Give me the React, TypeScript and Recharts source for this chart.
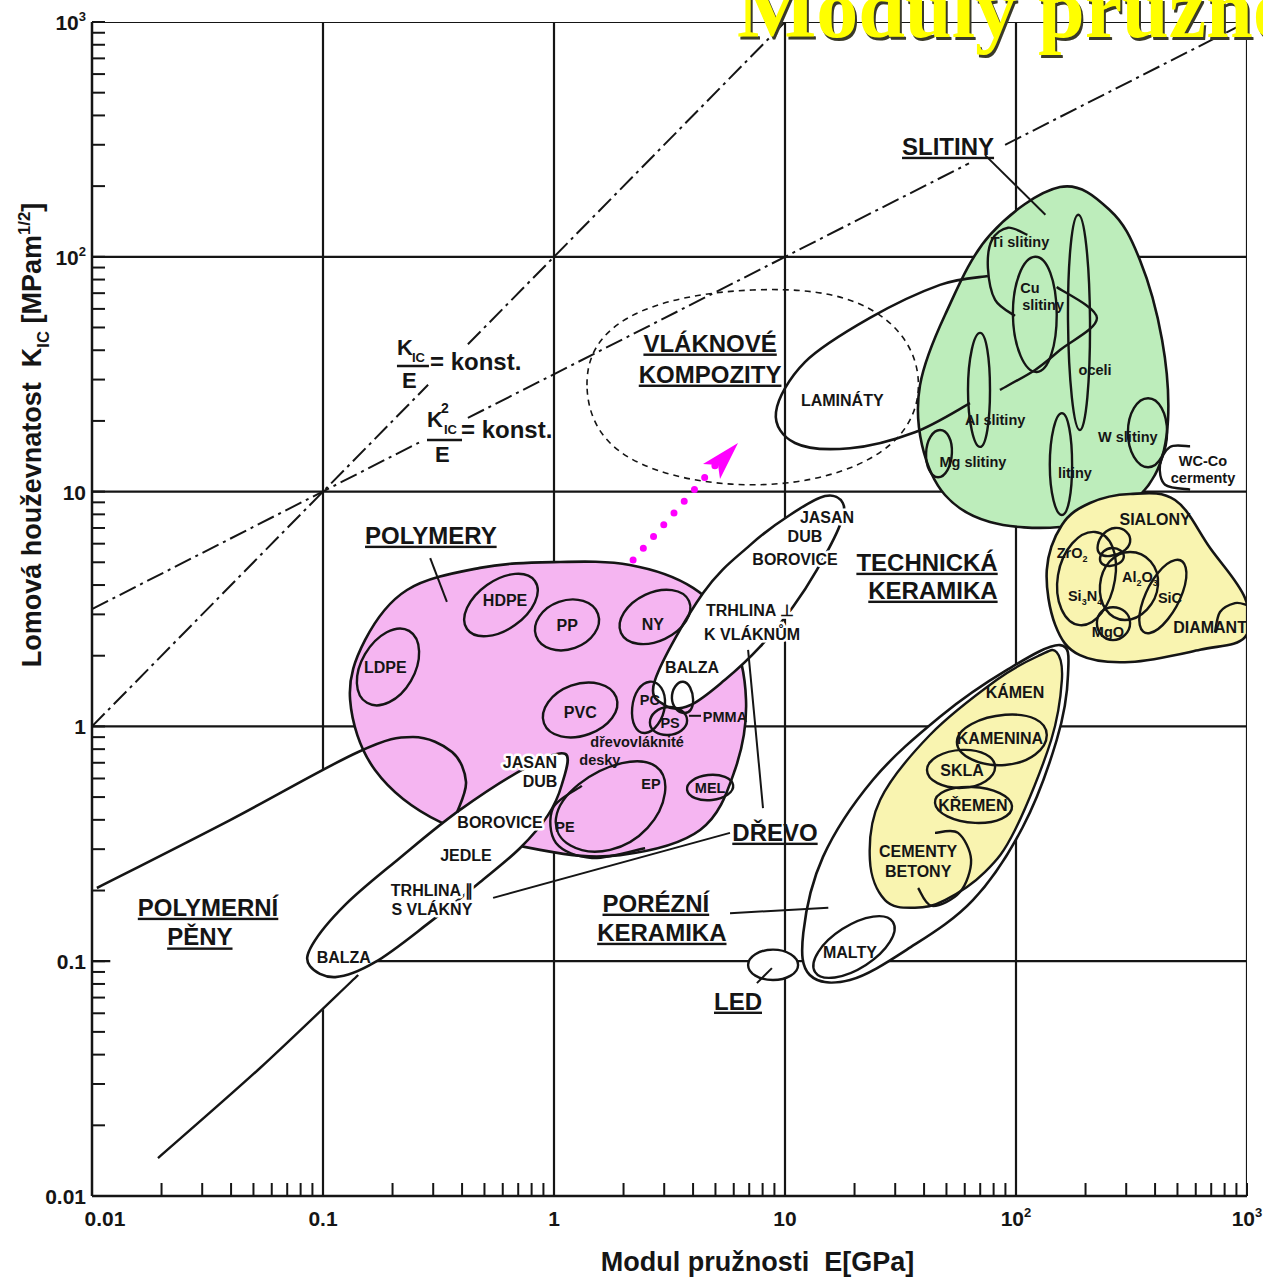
import React from "react";
import { Scatter, ScatterChart, XAxis, YAxis } from "recharts";

const FONT = "'Liberation Sans', Arial, Helvetica, sans-serif";
const INK = "#151515";
const PINK = "#f5b5f1";
const GREEN = "#bdedbb";
const YELLOW = "#f9f4b0";
const MAGENTA = "#ff00ff";
const DASHDOT = "18 5 3 5";

type Pt = [number, number];

// axes: log decades and minor ticks
const MAJOR_TICKS = [0.01, 0.1, 1, 10, 100, 1000];
const MINOR_TICKS = [
  0.02, 0.03, 0.04, 0.05, 0.06, 0.07, 0.08, 0.09,
  0.2, 0.3, 0.4, 0.5, 0.6, 0.7, 0.8, 0.9,
  2, 3, 4, 5, 6, 7, 8, 9,
  20, 30, 40, 50, 60, 70, 80, 90,
  200, 300, 400, 500, 600, 700, 800, 900,
];
const TICK_LABELS: Record<string, string> = {
  "0.01": "0.01", "0.1": "0.1", "1": "1", "10": "10", "100": "10^2", "1000": "10^3",
};
const GRID_LINES = [0.1, 1, 10, 100];

// guide lines K/E = const and K^2/E = const (split where labels sit)
const KE_LINE_A: Pt[] = [[0.01, 1], [0.285, 28.5]];
const KE_LINE_B: Pt[] = [[0.424, 42.4], [10, 1000]];
const K2E_LINE_A: Pt[] = [[0.01, 3.16], [0.271, 16.5]];
const K2E_LINE_B: Pt[] = [[0.424, 20.6], [62.6, 250]];
const K2E_LINE_C: Pt[] = [[89.7, 300], [1000, 1000]];

// material envelopes, [E GPa, K_IC MPa m^1/2]
const FIBRE_COMPOSITES: Pt[] = [[1.39, 28.4], [2.09, 54.9], [7.2, 72.2], [22.9, 60.5], [37.7, 30.5], [25.8, 14.7], [7.79, 10.7], [2.13, 13.9]];
const LAMINATES: Pt[] = [[75.6, 82.8], [46.9, 75.9], [23.3, 54.9], [12.2, 35.6], [9.14, 21.8], [11.05, 16.1], [19.1, 15.3], [36.5, 17.9], [63.2, 23.8]];

const ALLOYS: Pt[] = [[155, 198], [255, 158], [344, 96.9], [429, 44.2], [455, 20.2], [400, 11.8], [282, 8.35], [155, 7.07], [77.2, 7.42], [49.3, 9.67], [39.2, 15.8], [38.4, 28.4], [49.3, 56.5], [77.2, 124]];
const TI_ALLOYS: Pt[] = [[99, 56], [81.2, 65.5], [75.6, 89.6], [78.7, 118], [92.3, 133], [112, 124]];
const CU_ALLOYS: Pt[] = [[121, 100], [150, 57.7], [123, 32.3], [97, 56.5]];
const CU_LOBE: Pt[] = [[85.2, 27.1], [121, 33.0], [155, 40.1], [224, 54.9], [150, 74.4]];
const STEELS: Pt[] = [[186, 151], [209, 53.8], [189, 18.3], [168, 53.8]];
const AL_ALLOYS: Pt[] = [[69.9, 47.4], [77.2, 27.1], [69.9, 15.5], [62, 27.1]];
const MG_ALLOYS: Pt[] = [[46.9, 18.3], [52.8, 14.6], [46, 11.5], [40.8, 14.6]];
const CAST_IRONS: Pt[] = [[158, 21.6], [175, 13.0], [158, 7.95], [140, 13.0]];
const W_ALLOYS: Pt[] = [[373, 25.0], [451, 17.9], [373, 12.7], [305, 17.9]];
const WC_CO: Pt[] = [[567, 15.6], [464, 15.5], [420, 13.0], [442, 10.7], [567, 10.2]];

const POLYMERS: Pt[] = [[0.131, 1.3], [0.152, 2.33], [0.231, 3.81], [0.478, 4.73], [0.99, 5.01], [2.13, 4.87], [4.0, 3.89], [5.78, 2.57], [6.78, 1.3], [6.07, 0.652], [4.29, 0.362], [1.93, 0.283], [0.87, 0.298], [0.321, 0.392], [0.168, 0.652]];
const HDPE: Pt[] = [[0.827, 4.16], [0.678, 2.7], [0.42, 2.6], [0.513, 4.0]];
const PP: Pt[] = [[1.55, 3.01], [1.233, 2.16], [0.836, 2.43], [1.05, 3.39]];
const NY: Pt[] = [[3.84, 3.42], [3.02, 2.36], [1.95, 2.5], [2.48, 3.63]];
const LDPE: Pt[] = [[0.236, 2.55], [0.24, 1.56], [0.155, 1.26], [0.152, 2.03]];
const PVC: Pt[] = [[1.86, 1.33], [1.42, 0.928], [0.905, 1.03], [1.185, 1.49]];
const PC: Pt[] = [[2.6, 1.55], [3.02, 1.23], [2.48, 0.937], [2.18, 1.2]];
const PS: Pt[] = [[3.12, 1.21], [3.77, 1.06], [3.12, 0.919], [2.6, 1.04]];
const PMMA: Pt[] = [[3.62, 1.55], [4.0, 1.3], [3.65, 1.14], [3.24, 1.32]];
const EP: Pt[] = [[1.97, 0.698], [3.02, 0.52], [1.75, 0.298], [1.02, 0.407]];
const PE: Pt[] = [[1.32, 0.558], [0.99, 0.449], [1.02, 0.319], [1.46, 0.275], [2.48, 0.303]];
const MEL: Pt[] = [[5.96, 0.563], [4.83, 0.486], [3.77, 0.536], [4.64, 0.621]];

const FOAM_AREA: Pt[] = [[0.012, 0.224], [0.142, 0.778], [0.147, 0.0873], [0.0193, 0.0145], [0.012, 0.0142]];
const FOAM_UPPER: Pt[] = [[0.0105, 0.205], [0.0396, 0.399], [0.142, 0.778], [0.245, 0.901], [0.362, 0.778], [0.416, 0.58], [0.38, 0.428]];
const FOAM_LOWER: Pt[] = [[0.0193, 0.0145], [0.0534, 0.0351], [0.142, 0.0873]];

const WOOD_PARALLEL: Pt[] = [[1.12, 0.763], [0.764, 0.671], [0.392, 0.441], [0.215, 0.275], [0.125, 0.174], [0.0897, 0.117], [0.0878, 0.0954], [0.113, 0.0856], [0.168, 0.099], [0.291, 0.147], [0.478, 0.217], [0.712, 0.303], [0.942, 0.419], [1.08, 0.563]];
const WOOD_PERP: Pt[] = [[2.74, 1.58], [4.42, 3.7], [7.06, 5.92], [10.5, 7.95], [14.9, 9.58], [17.8, 8.94], [17.3, 7.21], [13.75, 4.64], [10.8, 3.22], [7.79, 2.18], [5.5, 1.58], [3.88, 1.23], [3.02, 1.23]];

const TECH_CERAMICS: Pt[] = [[312, 9.77], [488, 9.21], [692, 5.75], [980, 3.52], [980, 2.4], [626, 2.12], [312, 1.88], [189, 2.01], [148, 2.7], [136, 4.64], [158, 7.21], [209, 8.94]];
const ZRO2_SI3N4: Pt[] = [[220, 6.73], [268, 4.2], [189, 2.7], [152, 4.41]];
const SIALON: Pt[] = [[268, 7.0], [312, 6.1], [255, 5.32], [226, 5.92]];
const SIALON_CORE: Pt[] = [[260, 5.75], [293, 5.27], [255, 4.82], [231, 5.21]];
const AL2O3: Pt[] = [[312, 5.53], [412, 4.0], [296, 2.84], [231, 4.0]];
const SIC: Pt[] = [[488, 5.11], [528, 3.74], [380, 2.5], [355, 3.45]];
const MGO: Pt[] = [[263, 3.22], [312, 2.76], [263, 2.33], [224, 2.76]];
const DIAMOND: Pt[] = [[727, 2.52], [764, 3.07], [887, 3.35], [1000, 3.29]];

const POROUS_CERAMICS: Pt[] = [[155, 2.22], [168, 1.66], [150, 0.875], [107, 0.373], [65.1, 0.182], [33.7, 0.112], [19.1, 0.0832], [12.8, 0.0873], [12.0, 0.132], [14.6, 0.278], [24.0, 0.591], [46.9, 1.1], [91.4, 1.74]];
const STONE: Pt[] = [[150, 2.07], [158, 1.58], [142, 0.875], [99, 0.362], [73.5, 0.24], [49.3, 0.182], [36.5, 0.169], [27.1, 0.182], [23.3, 0.27], [25.8, 0.486], [42.4, 0.919], [82.7, 1.58], [127, 2.01]];
const POTTERY: Pt[] = [[89.7, 1.12], [136, 0.919], [89.7, 0.685], [55.5, 0.858]];
const GLASS: Pt[] = [[58.4, 0.794], [81.2, 0.671], [58.4, 0.547], [41.2, 0.652]];
const QUARTZ: Pt[] = [[64.5, 0.552], [96.1, 0.458], [66.5, 0.388], [44.6, 0.472]];
const CEMENT: Pt[] = [[44.6, 0.352], [56.1, 0.352], [63.9, 0.27], [57.2, 0.197], [43.3, 0.172], [37.7, 0.205]];
const MORTAR: Pt[] = [[29.3, 0.147], [22.4, 0.0963], [13.5, 0.0899], [17.7, 0.137]];
const ICE: Pt[] = [[8.87, 0.112], [11.4, 0.0963], [8.87, 0.0832], [6.92, 0.0963]];

// leader lines and the arrow
const SLITINY_LEADER: Pt[] = [[73.5, 271], [134, 151]];
const POLYMERY_LEADER: Pt[] = [[0.291, 5.21], [0.344, 3.39]];
const POROUS_LEADER: Pt[] = [[5.78, 0.16], [15.4, 0.169]];
const ICE_LEADER: Pt[] = [[7.56, 0.0807], [8.78, 0.0935]];
const WOOD_LEADER: Pt[] = [[5.78, 0.352], [0.545, 0.186]];
const WOOD_LEADER_UP: Pt[] = [[8.03, 0.449], [6.92, 2.12]];
const PMMA_LEADER: Pt[] = [[3.84, 1.11], [4.33, 1.11]];
const FIBRE_ARROW: Pt[] = [[2.2, 5.11], [5.08, 13.2]];
const ARROW_TIP = [{ x: 6.26, y: 16.1 }];

const ANNOTATIONS = [
  { x: 50.8, y: 296, t: "SLITINY", kind: "big" },
  { x: 4.74, y: 43.0, t: "VLÁKNOVÉ", kind: "big" },
  { x: 4.74, y: 31.7, t: "KOMPOZITY", kind: "big" },
  { x: 0.293, y: 6.53, t: "POLYMERY", kind: "big" },
  { x: 41.2, y: 5.01, t: "TECHNICKÁ", kind: "big" },
  { x: 43.7, y: 3.81, t: "KERAMIKA", kind: "big" },
  { x: 9.05, y: 0.355, t: "DŘEVO", kind: "big" },
  { x: 0.0318, y: 0.17, t: "POLYMERNÍ", kind: "big" },
  { x: 0.0293, y: 0.127, t: "PĚNY", kind: "big" },
  { x: 2.76, y: 0.177, t: "PORÉZNÍ", kind: "big" },
  { x: 2.93, y: 0.133, t: "KERAMIKA", kind: "big" },
  { x: 6.26, y: 0.0677, t: "LED", kind: "big" },
  { x: 17.7, y: 24.5, t: "LAMINÁTY", kind: "mid" },
  { x: 0.614, y: 3.45, t: "HDPE", kind: "mid" },
  { x: 1.14, y: 2.7, t: "PP", kind: "mid" },
  { x: 2.68, y: 2.73, t: "NY", kind: "mid" },
  { x: 0.186, y: 1.79, t: "LDPE", kind: "mid" },
  { x: 1.3, y: 1.15, t: "PVC", kind: "mid" },
  { x: 3.96, y: 1.79, t: "BALZA", kind: "mid" },
  { x: 0.787, y: 0.705, t: "JASAN", kind: "mid", halo: true },
  { x: 0.87, y: 0.585, t: "DUB", kind: "mid" },
  { x: 0.584, y: 0.392, t: "BOROVICE", kind: "mid", halo: true },
  { x: 0.416, y: 0.283, t: "JEDLE", kind: "mid" },
  { x: 0.296, y: 0.201, t: "TRHLINA ∥", kind: "mid", halo: true },
  { x: 0.296, y: 0.167, t: "S VLÁKNY", kind: "mid", halo: true },
  { x: 0.123, y: 0.104, t: "BALZA", kind: "mid" },
  { x: 15.2, y: 7.79, t: "JASAN", kind: "mid", halo: true },
  { x: 12.2, y: 6.47, t: "DUB", kind: "mid", halo: true },
  { x: 11.05, y: 5.16, t: "BOROVICE", kind: "mid", halo: true },
  { x: 7.06, y: 3.13, t: "TRHLINA ⊥", kind: "mid", halo: true },
  { x: 7.2, y: 2.47, t: "K VLÁKNŮM", kind: "mid", halo: true },
  { x: 400, y: 7.64, t: "SIALONY", kind: "mid" },
  { x: 692, y: 2.65, t: "DIAMANT", kind: "mid" },
  { x: 99, y: 1.4, t: "KÁMEN", kind: "mid" },
  { x: 85.2, y: 0.893, t: "KAMENINA", kind: "mid" },
  { x: 58.4, y: 0.652, t: "SKLA", kind: "mid" },
  { x: 65.1, y: 0.463, t: "KŘEMEN", kind: "mid" },
  { x: 37.7, y: 0.295, t: "CEMENTY", kind: "mid" },
  { x: 37.7, y: 0.242, t: "BETONY", kind: "mid" },
  { x: 19.1, y: 0.109, t: "MALTY", kind: "mid" },
  { x: 104, y: 116, t: "Ti slitiny", kind: "small" },
  { x: 115, y: 73.6, t: "Cu", kind: "small" },
  { x: 131, y: 62.3, t: "slitiny", kind: "small" },
  { x: 220, y: 33.0, t: "oceli", kind: "small" },
  { x: 81.2, y: 20.2, t: "Al slitiny", kind: "small" },
  { x: 65.1, y: 13.4, t: "Mg slitiny", kind: "small" },
  { x: 180, y: 12.0, t: "litiny", kind: "small" },
  { x: 305, y: 17.1, t: "W slitiny", kind: "small" },
  { x: 645, y: 13.5, t: "WC-Co", kind: "small" },
  { x: 645, y: 11.5, t: "cermenty", kind: "small" },
  { x: 2.29, y: 0.858, t: "dřevovláknité", kind: "small" },
  { x: 1.58, y: 0.719, t: "desky", kind: "small" },
  { x: 2.63, y: 0.568, t: "EP", kind: "small" },
  { x: 1.116, y: 0.373, t: "PE", kind: "small" },
  { x: 2.6, y: 1.3, t: "PC", kind: "small" },
  { x: 3.18, y: 1.04, t: "PS", kind: "small" },
  { x: 5.5, y: 1.1, t: "PMMA", kind: "small" },
  { x: 4.74, y: 0.547, t: "MEL", kind: "small" },
  { x: 175, y: 5.48, t: "ZrO_2", kind: "small" },
  { x: 344, y: 4.33, t: "Al_2O_3", kind: "small" },
  { x: 199, y: 3.59, t: "Si_3N_4", kind: "small" },
  { x: 464, y: 3.52, t: "SiC", kind: "small" },
  { x: 250, y: 2.52, t: "MgO", kind: "small" },
  { x: 0.209, y: 34.3, t: "", kind: "ke" },
  { x: 0.282, y: 16.6, t: "", kind: "k2e" },
];

const SIZES: Record<string, number> = { big: 24, mid: 16, small: 14.5 };

type ShapeDef = {
  pts: Pt[];
  closed?: boolean;
  curve?: boolean;
  fill?: string;
  stroke?: string;
  sw?: number;
  dash?: string;
  cap?: "round" | "butt";
};

const frameLine = (pts: Pt[]): ShapeDef => ({ pts, sw: 2.2 });
const ring = (pts: Pt[], fill = "none", sw = 2.4): ShapeDef => ({ pts, closed: true, curve: true, fill, sw });
const arc = (pts: Pt[], sw = 2.4): ShapeDef => ({ pts, curve: true, sw });

// drawing order matters: fills hide the grid below them
const SHAPES: ShapeDef[] = [
  ...GRID_LINES.map((v) => frameLine([[v, 0.01], [v, 1000]])),
  ...GRID_LINES.map((v) => frameLine([[0.01, v], [1000, v]])),
  { pts: KE_LINE_A, sw: 2, dash: DASHDOT },
  { pts: KE_LINE_B, sw: 2, dash: DASHDOT },
  { pts: K2E_LINE_A, sw: 2, dash: DASHDOT },
  { pts: K2E_LINE_B, sw: 2, dash: DASHDOT },
  { pts: K2E_LINE_C, sw: 2, dash: DASHDOT },
  { pts: FOAM_AREA, closed: true, fill: "#fff", stroke: "none" },
  arc(FOAM_LOWER),
  ring(POROUS_CERAMICS, "#fff", 2.6),
  ring(ICE, "#fff"),
  { pts: FIBRE_COMPOSITES, closed: true, curve: true, sw: 1.6, dash: "6 5" },
  ring(POLYMERS, PINK, 2.6),
  ring(WOOD_PARALLEL, "#fff", 2.6),
  ring(WOOD_PERP, "#fff", 2.6),
  arc(FOAM_UPPER, 2.6),
  ring(HDPE), ring(PP), ring(NY), ring(LDPE), ring(PVC), ring(PC), ring(PS), ring(PMMA),
  ring(EP), arc(PE), ring(MEL),
  ring(ALLOYS, GREEN, 2.6),
  arc(LAMINATES, 2.6),
  arc(TI_ALLOYS), ring(CU_ALLOYS), arc(CU_LOBE), ring(STEELS), ring(AL_ALLOYS),
  ring(MG_ALLOYS), ring(CAST_IRONS), ring(W_ALLOYS), arc(WC_CO),
  ring(STONE, YELLOW, 2.4),
  ring(POTTERY), ring(GLASS), ring(QUARTZ), arc(CEMENT), ring(MORTAR),
  ring(TECH_CERAMICS, YELLOW, 2.6),
  ring(ZRO2_SI3N4), ring(SIALON), ring(SIALON_CORE), ring(AL2O3), ring(SIC), ring(MGO), arc(DIAMOND),
  { pts: SLITINY_LEADER, sw: 2 },
  { pts: POLYMERY_LEADER, sw: 2 },
  { pts: POROUS_LEADER, sw: 2 },
  { pts: ICE_LEADER, sw: 2 },
  { pts: WOOD_LEADER, sw: 2 },
  { pts: WOOD_LEADER_UP, sw: 2 },
  { pts: PMMA_LEADER, sw: 2 },
  { pts: FIBRE_ARROW, stroke: MAGENTA, sw: 7, dash: "0 15.6", cap: "round" },
  frameLine([[1000, 0.01], [1000, 1000]]),
  frameLine([[0.01, 1000], [1000, 1000]]),
];

function pathFor(pts: { x: number; y: number }[], closed: boolean, curve: boolean) {
  const n = pts.length;
  if (!curve) {
    return pts.map((p, i) => `${i ? "L" : "M"}${p.x.toFixed(1)},${p.y.toFixed(1)}`).join("") + (closed ? "Z" : "");
  }
  const k = closed ? ((4 / 3) * Math.tan(Math.PI / (2 * n))) / (2 * Math.sin((2 * Math.PI) / n)) : 1 / 6;
  const at = (i: number) => (closed ? pts[(i + n) % n] : pts[Math.max(0, Math.min(n - 1, i))]);
  let d = `M${pts[0].x.toFixed(1)},${pts[0].y.toFixed(1)}`;
  const segs = closed ? n : n - 1;
  for (let i = 0; i < segs; i++) {
    const p0 = at(i - 1), p1 = at(i), p2 = at(i + 1), p3 = at(i + 2);
    const c1x = p1.x + (p2.x - p0.x) * k, c1y = p1.y + (p2.y - p0.y) * k;
    const c2x = p2.x - (p3.x - p1.x) * k, c2y = p2.y - (p3.y - p1.y) * k;
    d += `C${c1x.toFixed(1)},${c1y.toFixed(1)} ${c2x.toFixed(1)},${c2y.toFixed(1)} ${p2.x.toFixed(1)},${p2.y.toFixed(1)}`;
  }
  return d + (closed ? "Z" : "");
}

function Outline(props: any) {
  const { points, def } = props;
  if (!points || points.length < 2) return null;
  const s: ShapeDef = def;
  return (
    <path
      d={pathFor(points, !!s.closed, !!s.curve)}
      fill={s.fill ?? "none"}
      stroke={s.stroke ?? INK}
      strokeWidth={s.sw ?? 2.4}
      strokeDasharray={s.dash}
      strokeLinecap={s.cap ?? "butt"}
      strokeLinejoin="round"
    />
  );
}

const Nothing = () => null;

function rich(s: string, fs: number) {
  const tokens = s.match(/[_^]\{[^}]*\}|[_^][^_^\s]|[^_^]+/g) || [];
  let shift = 0;
  return tokens.map((tk, i) => {
    let target = 0;
    let size = fs;
    let txt = tk;
    if (tk[0] === "_" || tk[0] === "^") {
      txt = tk[1] === "{" ? tk.slice(2, -1) : tk.slice(1);
      target = tk[0] === "_" ? fs * 0.28 : -fs * 0.42;
      size = fs * 0.62;
    }
    const dy = target - shift;
    shift = target;
    return (
      <tspan key={i} dy={dy || undefined} fontSize={size}>
        {txt}
      </tspan>
    );
  });
}

function Fraction({ cx, cy, sq }: { cx: number; cy: number; sq: boolean }) {
  const f = { fontFamily: FONT, fontWeight: 700, fill: INK };
  return (
    <g>
      <text x={cx} y={cy - (sq ? 13 : 11)} fontSize={22} {...f}>K</text>
      {sq && <text x={cx + 14} y={cy - 27} fontSize={14} {...f}>2</text>}
      <text x={cx + (sq ? 17 : 15)} y={cy - (sq ? 6 : 4)} fontSize={13} {...f}>IC</text>
      <line x1={cx} x2={cx + (sq ? 35 : 32)} y1={cy} y2={cy} stroke={INK} strokeWidth={2.5} />
      <text x={cx + (sq ? 8 : 5)} y={cy + 22} fontSize={22} {...f}>E</text>
      <text x={cx + (sq ? 34 : 33)} y={cy + (sq ? -2 : 4)} fontSize={24} {...f}>= konst.</text>
    </g>
  );
}

function LabelShape(props: any) {
  const { cx, cy, payload } = props;
  if (payload.kind === "ke" || payload.kind === "k2e") {
    return <Fraction cx={cx} cy={cy} sq={payload.kind === "k2e"} />;
  }
  const fs = SIZES[payload.kind];
  return (
    <text
      x={cx}
      y={cy + fs * 0.36}
      textAnchor="middle"
      fontFamily={FONT}
      fontWeight={700}
      fontSize={fs}
      fill={INK}
      stroke={payload.halo ? "#fff" : "none"}
      strokeWidth={payload.halo ? 5 : 0}
      strokeLinejoin="round"
      paintOrder="stroke"
      style={{ textDecoration: payload.kind === "big" ? "underline" : "none" }}
    >
      {rich(payload.t, fs)}
    </text>
  );
}

function Arrowhead(props: any) {
  const { cx, cy } = props;
  const pts = [[0, 0], [-35, 21], [-20, 22], [-18, 36]].map(([dx, dy]) => `${cx + dx},${cy + dy}`).join(" ");
  return <polygon points={pts} fill={MAGENTA} />;
}

function XTick(props: any) {
  const { x, y, payload } = props;
  const v = payload.value;
  const label = TICK_LABELS[String(v)];
  return (
    <g>
      <line x1={x} x2={x} y1={y} y2={y - 13} stroke={INK} strokeWidth={2} />
      {label && (
        <text x={x + (v === 0.01 ? 13 : 0)} y={y + 30} textAnchor="middle" fontFamily={FONT} fontWeight={700} fontSize={21} fill={INK}>
          {rich(label, 21)}
        </text>
      )}
    </g>
  );
}

function YTick(props: any) {
  const { x, y, payload } = props;
  const label = TICK_LABELS[String(payload.value)];
  return (
    <g>
      <line x1={x} x2={x + 13} y1={y} y2={y} stroke={INK} strokeWidth={2} />
      {label && (
        <text x={x - 6} y={y + 8} textAnchor="end" fontFamily={FONT} fontWeight={700} fontSize={21} fill={INK}>
          {rich(label, 21)}
        </text>
      )}
    </g>
  );
}

function XTitle(props: any) {
  const vb = props.viewBox;
  return (
    <text x={vb.x + vb.width / 2 + 88} y={vb.y + 75} textAnchor="middle" fontFamily={FONT} fontWeight={700} fontSize={27} fill={INK} style={{ whiteSpace: "pre" }}>
      {"Modul pružnosti  E[GPa]"}
    </text>
  );
}

function YTitle(props: any) {
  const vb = props.viewBox;
  const x = vb.x + 19;
  const y = vb.y + vb.height / 2 - 174;
  return (
    <text x={x} y={y} transform={`rotate(-90, ${x}, ${y})`} textAnchor="middle" fontFamily={FONT} fontWeight={700} fontSize={27} fill={INK} style={{ whiteSpace: "pre" }}>
      {rich("Lomová houževnatost  K_{IC} [MPam^{1/2}]", 27)}
    </text>
  );
}

const ALL_TICKS = [...MAJOR_TICKS, ...MINOR_TICKS].sort((a, b) => a - b);

export default function App() {
  return (
    <div style={{ position: "absolute", left: 0, top: 0, width: 1263, height: 1279, overflow: "hidden", background: "#fff" }}>
      <ScatterChart width={1263} height={1279} margin={{ top: 22, right: 16, bottom: 23, left: 22 }}>
        <XAxis
          dataKey="x"
          type="number"
          scale="log"
          domain={[0.01, 1000]}
          allowDataOverflow
          ticks={ALL_TICKS}
          interval={0}
          tick={<XTick />}
          tickLine={false}
          tickSize={0}
          tickMargin={0}
          axisLine={{ stroke: INK, strokeWidth: 2.5 }}
          height={60}
          label={<XTitle />}
        />
        <YAxis
          dataKey="y"
          type="number"
          scale="log"
          domain={[0.01, 1000]}
          allowDataOverflow
          ticks={ALL_TICKS}
          interval={0}
          tick={<YTick />}
          tickLine={false}
          tickSize={0}
          tickMargin={0}
          axisLine={{ stroke: INK, strokeWidth: 2.5 }}
          width={70}
          label={<YTitle />}
        />
        {SHAPES.map((s, i) => (
          <Scatter
            key={i}
            data={s.pts.map(([x, y]) => ({ x, y }))}
            isAnimationActive={false}
            shape={Nothing}
            line={<Outline def={s} />}
          />
        ))}
        <Scatter data={ARROW_TIP} isAnimationActive={false} shape={Arrowhead} />
        <Scatter data={ANNOTATIONS} isAnimationActive={false} shape={LabelShape} />
      </ScatterChart>
      <svg width={1263} height={110} style={{ position: "absolute", left: 0, top: 0, pointerEvents: "none" }}>
        <text
          x={737}
          y={37}
          fontFamily="'Liberation Serif', 'Times New Roman', serif"
          fontWeight={700}
          fontSize={84}
          fill="#ffff00"
          style={{ filter: "drop-shadow(2px 3px 0px #3a3a2a)" }}
        >
          Moduly pružnosti
        </text>
      </svg>
    </div>
  );
}
